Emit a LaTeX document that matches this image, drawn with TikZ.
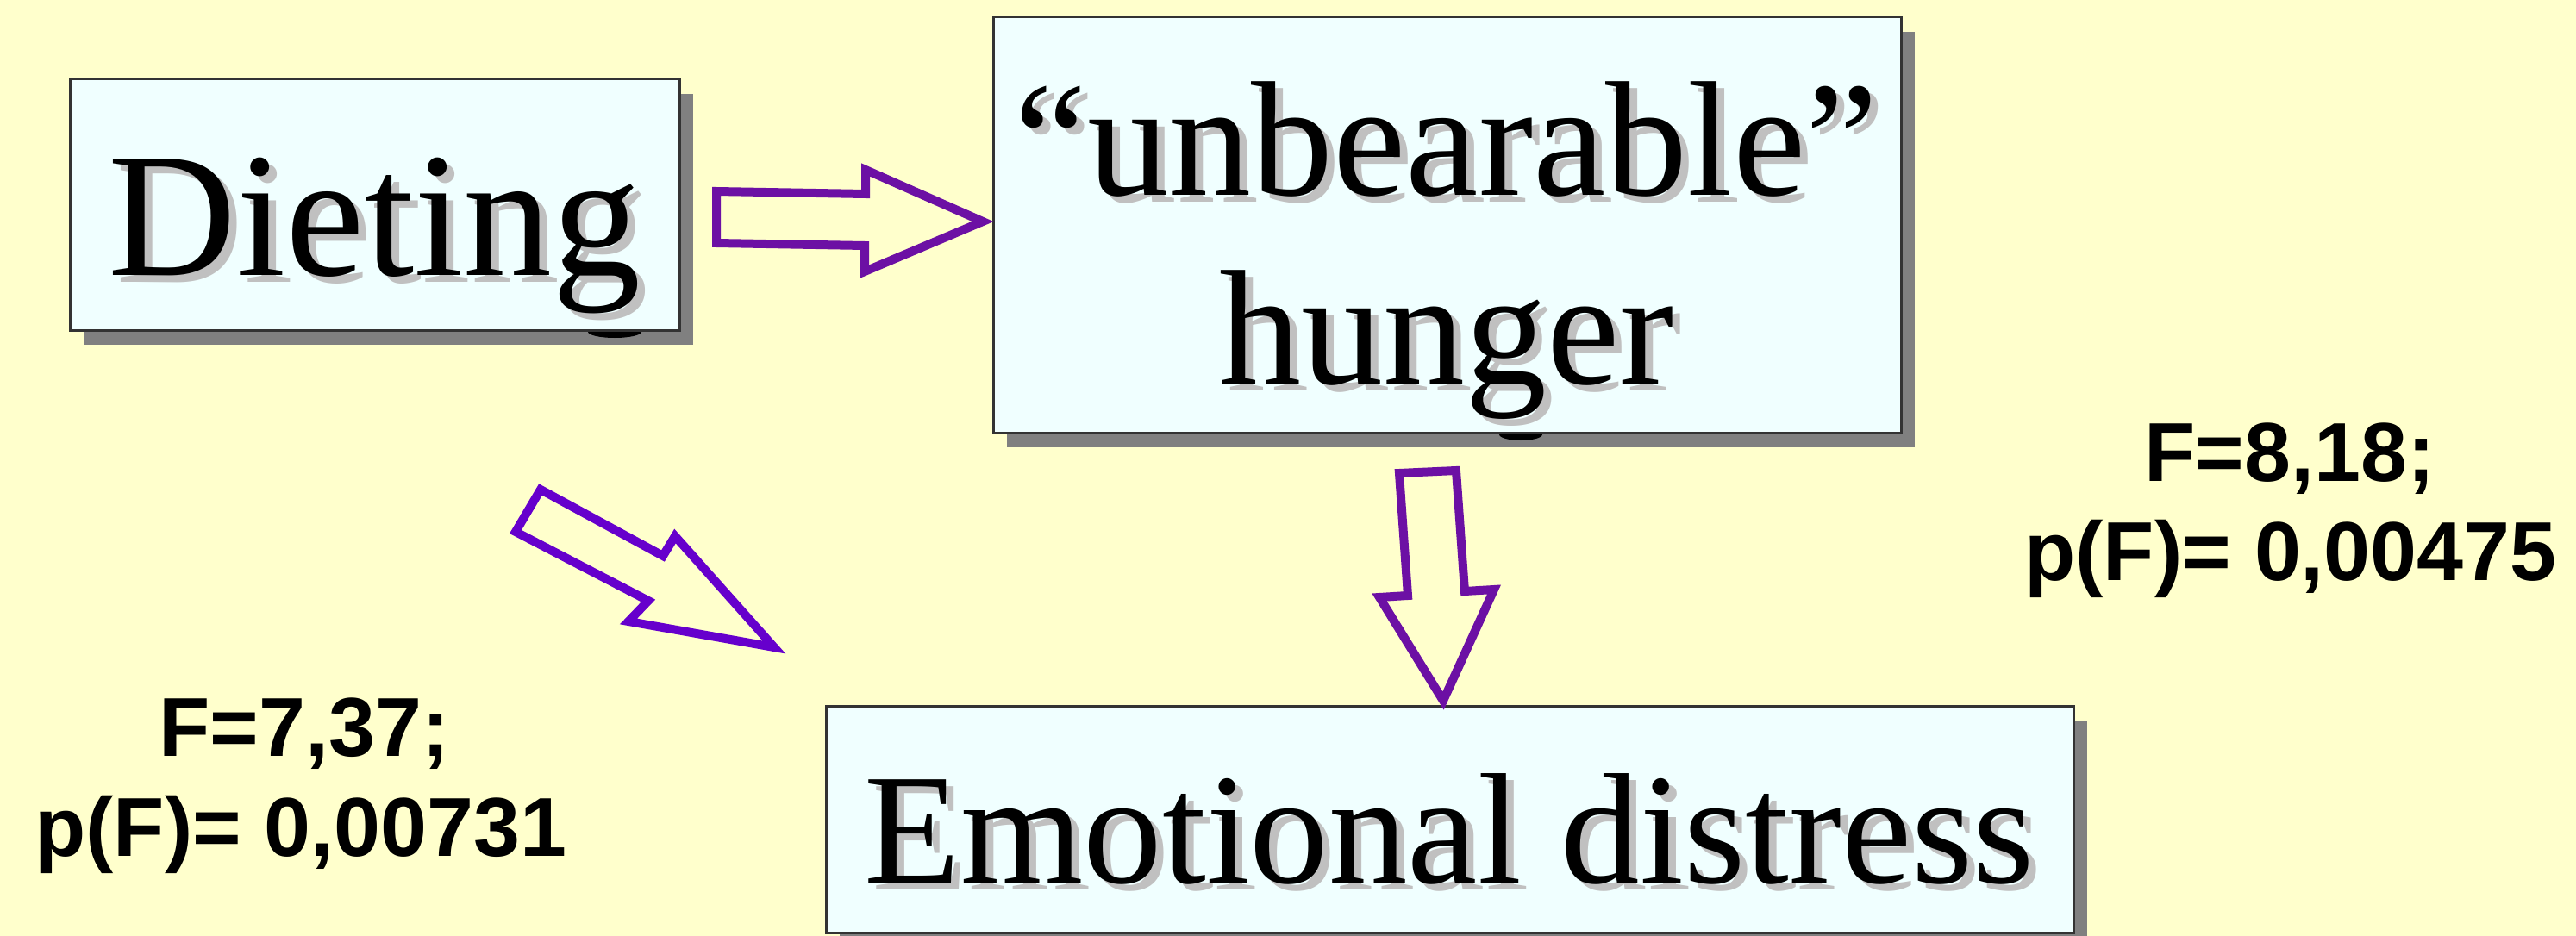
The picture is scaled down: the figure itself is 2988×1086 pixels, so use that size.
\documentclass[tikz,border=0pt]{standalone}
\usepackage{fontspec}
\setmainfont{Liberation Serif}
\newfontfamily\statfont{Liberation Sans}
\usetikzlibrary{shadows}
\definecolor{bgyellow}{HTML}{FFFFCC}
\definecolor{boxfill}{HTML}{F0FFFF}
\definecolor{boxline}{HTML}{333333}
\definecolor{boxshadow}{HTML}{808080}
\definecolor{txtshadow}{HTML}{C0C0C0}
\definecolor{arrowA}{HTML}{6C10A4}
\definecolor{arrowB}{HTML}{6600CC}
\newcommand\shadowed[5]{%
  \node[shtxt,font=\fontsize{#4}{#4}\selectfont] (#1sh) at ({#2+9},{#3+8}) {#5};
  \node[bigtxt,font=\fontsize{#4}{#4}\selectfont] (#1) at (#2,#3) {#5};}
\begin{document}
\begin{tikzpicture}[x=1pt,y=-1pt,
  box/.style={draw=boxline,line width=3pt,fill=boxfill,inner sep=0pt,outer sep=0pt,anchor=north west,
    drop shadow={shadow xshift=16pt,shadow yshift=-17pt,fill=boxshadow,opacity=1}},
  bigtxt/.style={inner sep=0pt,outer sep=0pt,anchor=base,text=black},
  shtxt/.style={bigtxt,text=txtshadow},
  stattxt/.style={inner sep=0pt,outer sep=0pt,anchor=base,text=black,
    font=\statfont\bfseries\fontsize{97}{97}\selectfont},
  blockarrow/.style={line width=10pt,line join=miter,draw=arrowA},
  blob/.style={fill=black}]
\useasboundingbox (0,0) rectangle (2988,1086);
\fill[bgyellow] (0,0) rectangle (2988,1086);

% boxes
\node[box,minimum width=707pt,minimum height=291pt] (dietbox) at (81,92) {};
\node[box,minimum width=1053pt,minimum height=482pt] (hungbox) at (1152,20) {};
\node[box,minimum width=1447pt,minimum height=263pt] (emobox) at (958,819) {};

% artefacts below boxes
\fill[blob] (744,385) arc[start angle=0,end angle=180,x radius=31,y radius=7] -- cycle;
\fill[blob] (1789,504) arc[start angle=0,end angle=180,x radius=25,y radius=7] -- cycle;

% texts
\shadowed{diet}{434.5}{319}{206}{Dieting}
\shadowed{hungA}{1678}{227}{190}{“unbearable”}
\shadowed{hungB}{1678}{445}{190}{hunger}
\shadowed{emo}{1681}{1024}{183}{Emotional distress}

% block arrows
\draw[blockarrow] (831,222) -- (1004,225) -- (1004,197) -- (1140,257) -- (1003,315)
  -- (1003,285) -- (831,282) -- cycle;
\draw[blockarrow,draw=arrowB] (627,568) -- (769,645) -- (783,622) -- (898,751) -- (729,721)
  -- (752,697) -- (598,617) -- cycle;
\draw[blockarrow] (1623,549) -- (1689,546) -- (1699,686) -- (1733,684) -- (1674,813)
  -- (1600,693) -- (1633,691) -- cycle;

% statistics
\node[stattxt] (statRa) at (2656,558) {F=8,18;};
\node[stattxt] (statRb) at (2657,673) {p(F)= 0,00475};
\node[stattxt] (statLa) at (353,877) {F=7,37;};
\node[stattxt] (statLb) at (349,993) {p(F)= 0,00731};
\end{tikzpicture}
\end{document}
